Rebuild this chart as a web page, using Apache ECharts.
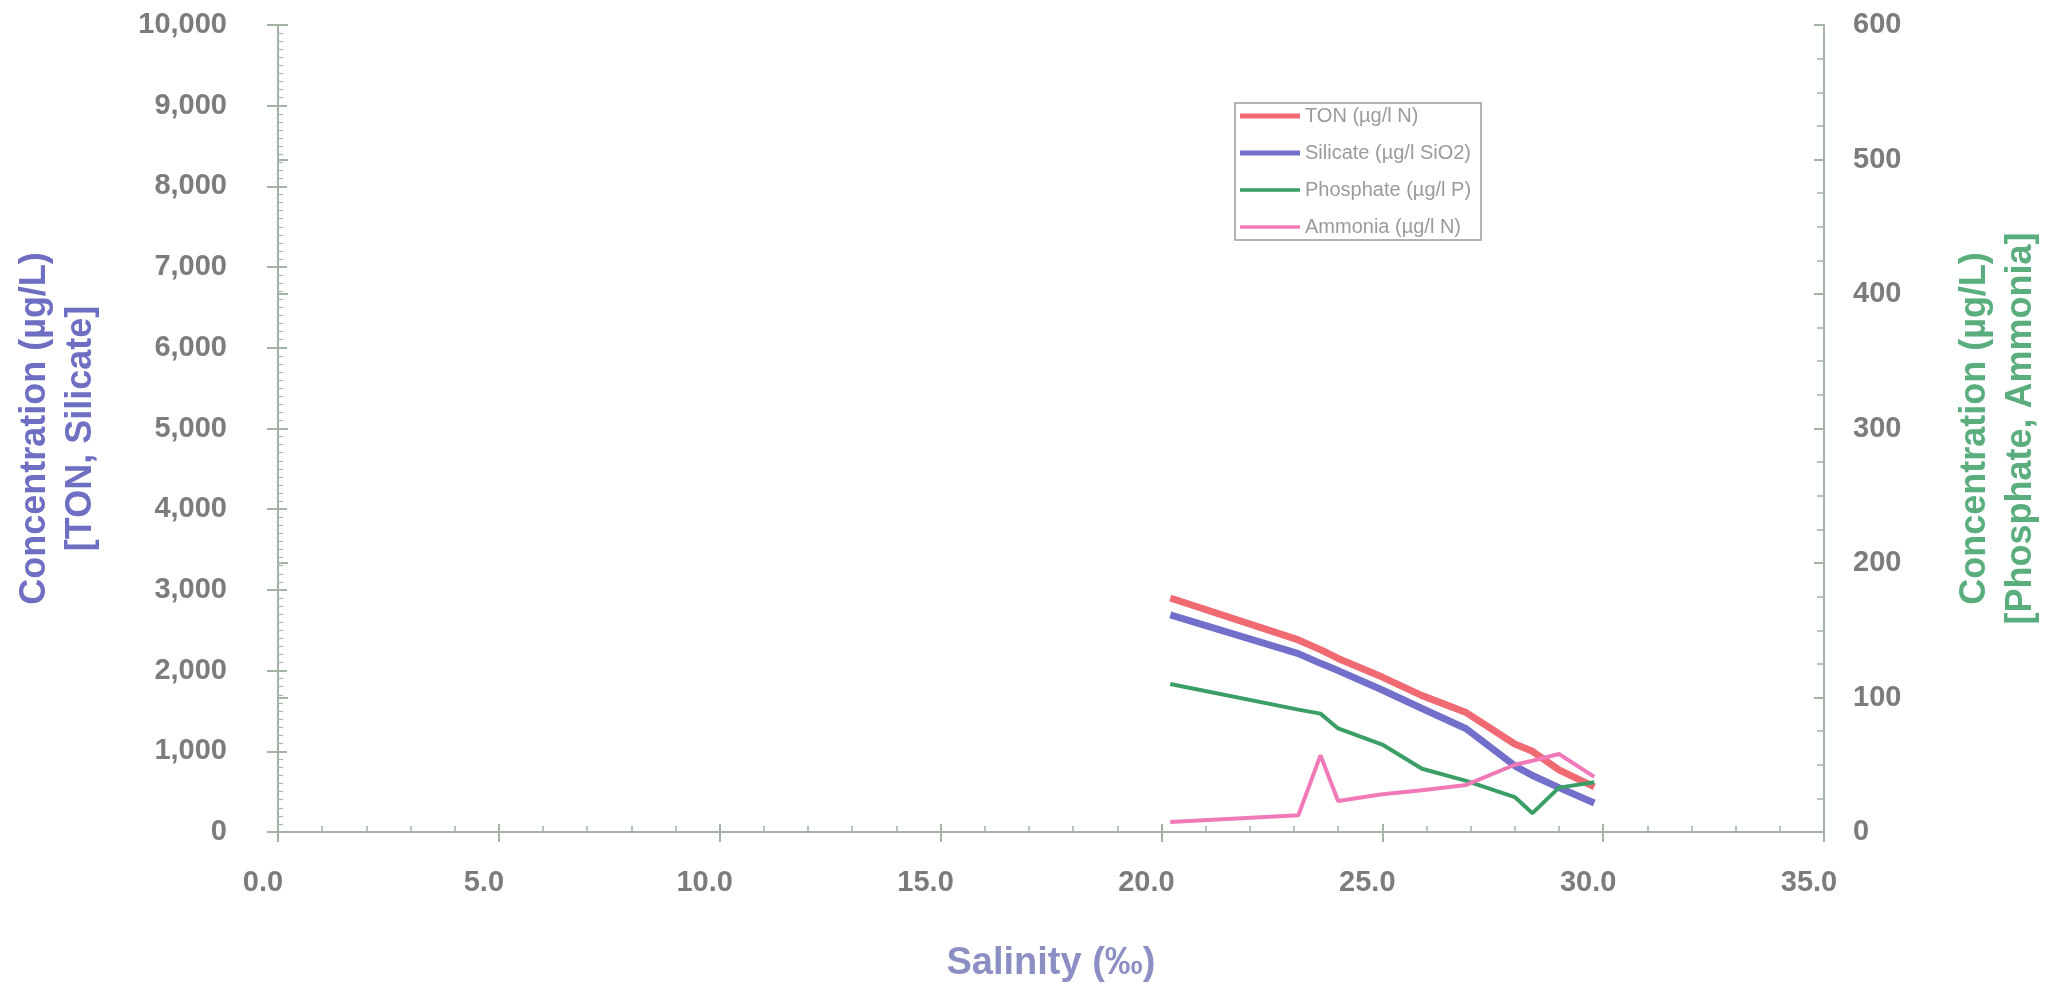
<!DOCTYPE html>
<html>
<head>
<meta charset="utf-8">
<title>Nutrient concentrations vs salinity</title>
<script src="https://cdn.jsdelivr.net/npm/echarts@6/dist/echarts.min.js"></script>
<style>
  html, body { margin: 0; padding: 0; background: #ffffff; }
  #chart { width: 2068px; height: 988px; }
</style>
</head>
<body>
<div id="chart"></div>
<script>
// Sample salinity (‰) at each station
const salinity  = [20.2, 23.1, 23.6, 24.0, 25.0, 25.9, 26.9, 28.0, 28.4, 29.0, 29.8];
// Left axis series (µg/L)
const ton       = [2900, 2380, 2260, 2150, 1920, 1690, 1480, 1090, 1000, 770, 560];
const silicate  = [2690, 2210, 2090, 2000, 1760, 1530, 1280, 820, 700, 550, 360];
// Right axis series (µg/L)
const phosphate = [110, 91, 88, 77, 65, 47, 38, 26, 14, 33, 37];
const ammonia   = [7.5, 12.5, 57, 23, 28, 31, 35, 50, 53, 58, 41];

// Tick labels
const xTickLabels     = ['0.0', '5.0', '10.0', '15.0', '20.0', '25.0', '30.0', '35.0'];
const leftTickLabels  = ['0', '1,000', '2,000', '3,000', '4,000', '5,000', '6,000', '7,000', '8,000', '9,000', '10,000'];
const rightTickLabels = ['0', '100', '200', '300', '400', '500', '600'];

const FONT = '"Liberation Sans", Arial, Helvetica, sans-serif';
const AXIS_COLOR = '#a3b3a6';
const LABEL_COLOR = '#7a7d7a';

const pairs = (ys) => salinity.map((s, i) => [s, ys[i]]);

// Legend swatch: a horizontal bar of thickness t centred in a 60x14 box
const bar = (t) =>
  `path://M0,0L60,0M0,14L60,14M0,${7 - t / 2}L60,${7 - t / 2}L60,${7 + t / 2}L0,${7 + t / 2}Z`;

const tickLabel = {
  fontFamily: FONT, fontWeight: 'bold', fontSize: 29, color: LABEL_COLOR
};

const chart = echarts.init(document.getElementById('chart'), null, { renderer: 'canvas' });

chart.setOption({
  backgroundColor: '#ffffff',
  animation: false,
  grid: { left: 278, right: 244, top: 25, bottom: 154, containLabel: false },
  legend: {
    orient: 'vertical',
    left: 1235, top: 103,
    padding: [3, 10, 3, 5],
    itemWidth: 60, itemHeight: 14, itemGap: 17,
    borderColor: '#9a9a9a', borderWidth: 1.5, backgroundColor: '#ffffff',
    itemStyle: { borderWidth: 0 },
    textStyle: { fontFamily: FONT, fontSize: 20, color: '#9a9a9a', lineHeight: 20 },
    data: [
      { name: 'TON (µg/l N)', icon: bar(5) },
      { name: 'Silicate (µg/l SiO2)', icon: bar(5) },
      { name: 'Phosphate (µg/l P)', icon: bar(3.5) },
      { name: 'Ammonia (µg/l N)', icon: bar(3.5) }
    ]
  },
  xAxis: [
    {
      type: 'value', min: 0, max: 35, interval: 5,
      position: 'bottom',
      name: 'Salinity (‰)', nameLocation: 'middle', nameGap: 113,
      nameTextStyle: { fontFamily: FONT, fontWeight: 'bold', fontSize: 38, color: '#8b8fc4' },
      axisLine: { show: true, onZero: false, lineStyle: { color: AXIS_COLOR, width: 2 } },
      axisTick: { show: true, inside: true, length: 8, lineStyle: { color: AXIS_COLOR, width: 2 } },
      minorTick: { show: true, splitNumber: 5, length: 6, lineStyle: { color: AXIS_COLOR, width: 1.5 } },
      axisLabel: Object.assign({}, tickLabel, {
        margin: 36, padding: [0, 30, 0, 0],
        formatter: (v) => xTickLabels[Math.round(v / 5)]
      }),
      splitLine: { show: false }
    },
    {
      // outer half of the major ticks
      type: 'value', min: 0, max: 35, interval: 5,
      position: 'bottom',
      axisLine: { show: false },
      axisTick: { show: true, inside: false, length: 10, lineStyle: { color: AXIS_COLOR, width: 2 } },
      axisLabel: { show: false },
      splitLine: { show: false }
    }
  ],
  yAxis: [
    {
      type: 'value', min: 0, max: 10000, interval: 1000,
      position: 'left',
      name: 'Concentration (µg/L)\n[TON, Silicate]',
      nameLocation: 'middle', nameRotate: 90, nameGap: 174,
      nameTextStyle: { fontFamily: FONT, fontWeight: 'bold', fontSize: 36, lineHeight: 46, color: '#6e6ec2', align: 'center' },
      axisLine: { show: true, onZero: false, lineStyle: { color: AXIS_COLOR, width: 2 } },
      axisTick: { show: true, inside: true, length: 9, lineStyle: { color: AXIS_COLOR, width: 2 } },
      minorTick: { show: true, splitNumber: 10, length: 5, lineStyle: { color: AXIS_COLOR, width: 1.2 } },
      axisLabel: Object.assign({}, tickLabel, {
        margin: 51,
        formatter: (v) => leftTickLabels[Math.round(v / 1000)]
      }),
      splitLine: { show: false }
    },
    {
      type: 'value', min: 0, max: 600, interval: 100,
      position: 'right',
      name: 'Concentration (µg/L)\n[Phosphate, Ammonia]',
      nameLocation: 'middle', nameRotate: 90, nameGap: 128,
      nameTextStyle: { fontFamily: FONT, fontWeight: 'bold', fontSize: 36, lineHeight: 46, color: '#5aae7e', align: 'center' },
      axisLine: { show: true, onZero: false, lineStyle: { color: AXIS_COLOR, width: 2 } },
      axisTick: { show: true, inside: true, length: 10, lineStyle: { color: AXIS_COLOR, width: 2 } },
      minorTick: { show: true, splitNumber: 4, length: 7, lineStyle: { color: AXIS_COLOR, width: 1.5 } },
      axisLabel: Object.assign({}, tickLabel, {
        margin: 29,
        formatter: (v) => rightTickLabels[Math.round(v / 100)]
      }),
      splitLine: { show: false }
    },
    {
      // outer half of the left major ticks
      type: 'value', min: 0, max: 10000, interval: 1000,
      position: 'left',
      axisLine: { show: false },
      axisTick: { show: true, inside: false, length: 11, lineStyle: { color: AXIS_COLOR, width: 2 } },
      axisLabel: { show: false },
      splitLine: { show: false }
    },
    {
      // outer half of the right major ticks
      type: 'value', min: 0, max: 600, interval: 100,
      position: 'right',
      axisLine: { show: false },
      axisTick: { show: true, inside: false, length: 10, lineStyle: { color: AXIS_COLOR, width: 2 } },
      axisLabel: { show: false },
      splitLine: { show: false }
    }
  ],
  series: [
    {
      name: 'TON (µg/l N)', type: 'line', xAxisIndex: 0, yAxisIndex: 0,
      data: pairs(ton), showSymbol: false, symbol: 'none',
      lineStyle: { color: '#ef6a72', width: 7 }, itemStyle: { color: '#ef6a72' }
    },
    {
      name: 'Silicate (µg/l SiO2)', type: 'line', xAxisIndex: 0, yAxisIndex: 0,
      data: pairs(silicate), showSymbol: false, symbol: 'none',
      lineStyle: { color: '#7370cc', width: 7 }, itemStyle: { color: '#7370cc' }
    },
    {
      name: 'Phosphate (µg/l P)', type: 'line', xAxisIndex: 0, yAxisIndex: 1,
      data: pairs(phosphate), showSymbol: false, symbol: 'none',
      lineStyle: { color: '#3a9e66', width: 4 }, itemStyle: { color: '#3a9e66' }
    },
    {
      name: 'Ammonia (µg/l N)', type: 'line', xAxisIndex: 0, yAxisIndex: 1,
      data: pairs(ammonia), showSymbol: false, symbol: 'none',
      lineStyle: { color: '#f07ab8', width: 4 }, itemStyle: { color: '#f07ab8' }
    }
  ]
});
</script>
</body>
</html>
